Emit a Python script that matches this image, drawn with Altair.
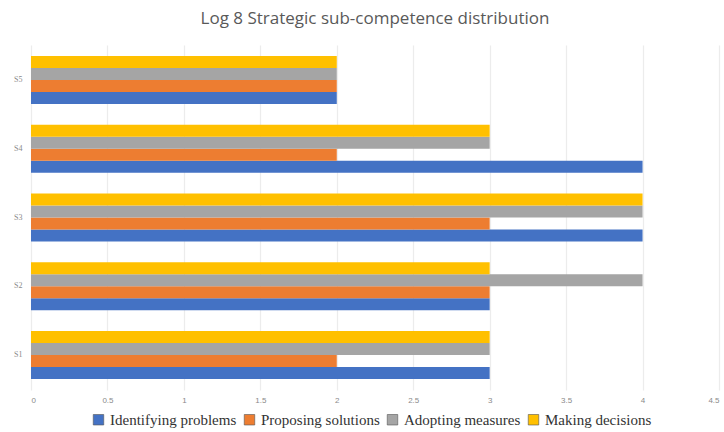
import altair as alt
import pandas as pd

# Students and the four strategic sub-competences
students = ["S1", "S2", "S3", "S4", "S5"]
series = ["Identifying problems", "Proposing solutions", "Adopting measures", "Making decisions"]
colors = ["#4472C4", "#ED7D31", "#A5A5A5", "#FFC000"]

identifying = [3, 3, 4, 4, 2]
proposing = [2, 3, 3, 2, 2]
adopting = [3, 4, 4, 3, 2]
deciding = [3, 3, 4, 3, 2]

values = [identifying, proposing, adopting, deciding]
rows = []
for name, vals in zip(series, values):
    for s, v in zip(students, vals):
        rows.append({"student": s, "competence": name, "score": v})
df = pd.DataFrame(rows)

chart = (
    alt.Chart(df)
    .mark_bar()
    .encode(
        y=alt.Y(
            "student:N",
            sort=students[::-1],
            title=None,
            scale=alt.Scale(paddingInner=0.3, paddingOuter=0.16),
            axis=alt.Axis(
                domain=False, ticks=False, labelFontSize=8, labelColor="#8a8a8a",
                labelPadding=9, labelFont="Liberation Serif", grid=False,
            ),
        ),
        yOffset=alt.YOffset(
            "competence:N",
            sort=series[::-1],
            scale=alt.Scale(paddingInner=0, paddingOuter=0),
        ),
        x=alt.X(
            "score:Q",
            title=None,
            scale=alt.Scale(domain=[0, 4.5], nice=False),
            axis=alt.Axis(
                values=[0, 0.5, 1, 1.5, 2, 2.5, 3, 3.5, 4, 4.5],
                format=".1~f",
                domain=False, ticks=False, labelFontSize=8, labelColor="#8a8a8a",
                labelPadding=6, gridColor="#ececec", gridWidth=1.2,
                labelFont="Liberation Sans",
            ),
        ),
        color=alt.Color(
            "competence:N",
            sort=series,
            scale=alt.Scale(domain=series, range=colors),
            legend=alt.Legend(
                title=None, orient="none", legendX=60, legendY=367,
                direction="horizontal", columns=4, symbolType="square",
                symbolSize=110, symbolStrokeColor="#555", symbolStrokeWidth=0.6,
                labelFont="Liberation Serif", labelFontSize=15, labelColor="#333",
                columnPadding=5, labelOffset=4,
            ),
        ),
    )
    .properties(
        width=688,
        height=345,
        autosize=alt.AutoSizeParams(type="none"),
        padding={"left": 31, "top": 45, "right": 5, "bottom": 42},
        title=alt.TitleParams(
            "Log 8 Strategic sub-competence distribution",
            font="Open Sans", fontSize=17, fontWeight="normal", color="#595959",
            anchor="middle", offset=17,
        ),
    )
    .configure_view(stroke=None)
)

chart.save("out.html", embed_options={"renderer": "svg", "actions": False})
